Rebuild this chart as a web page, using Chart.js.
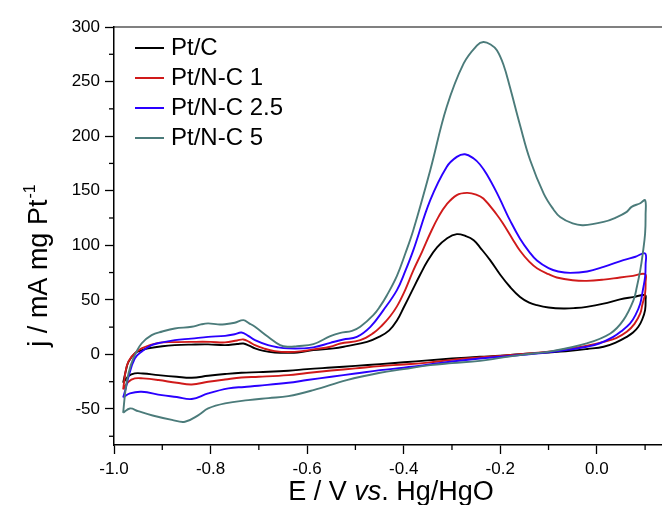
<!DOCTYPE html>
<html><head><meta charset="utf-8">
<script src="https://cdn.jsdelivr.net/npm/chart.js@4.4.1/dist/chart.umd.min.js"></script>
<style>html,body{margin:0;padding:0;background:#fff;}canvas{display:block;}</style>
</head><body>
<canvas id="c" width="662" height="505"></canvas>
<script>
// ---- Data (E in V vs Hg/HgO, j in mA mg Pt^-1) ----
const seriesNames = ['Pt/C', 'Pt/N-C 1', 'Pt/N-C 2.5', 'Pt/N-C 5'];
const seriesColors = ['#000000', '#d01a1a', '#2a00ff', '#4b7b7a'];

const ptC_E = [-0.981,-0.975,-0.970,-0.957,-0.943,-0.929,-0.900,-0.874,-0.840,-0.805,-0.770,-0.745,-0.732,-0.720,-0.708,-0.690,-0.667,-0.639,-0.620,-0.587,-0.545,-0.518,-0.476,-0.449,-0.430,-0.414,-0.400,-0.383,-0.366,-0.350,-0.331,-0.310,-0.290,-0.272,-0.255,-0.240,-0.221,-0.200,-0.180,-0.159,-0.140,-0.124,-0.100,-0.069,-0.045,-0.021,0.014,0.048,0.075,0.100,
  0.101,0.100,0.094,0.086,0.075,0.062,0.040,0.014,-0.020,-0.055,-0.100,-0.159,-0.200,-0.242,-0.300,-0.350,-0.400,-0.449,-0.500,-0.550,-0.600,-0.639,-0.700,-0.736,-0.770,-0.805,-0.839,-0.870,-0.908,-0.940,-0.957,-0.970,-0.981];
const ptC_j = [-26,-14,-6.8,0.9,3.8,5.5,7.5,8.5,9,9.2,8.5,9.5,10,8,5.5,3.2,1.8,1.5,1.8,3.9,5.5,7.6,11.5,16.5,22,31,43,58,73,86,98,106.5,110.2,108.5,104.7,97,86.4,73,62,52.7,47.5,45.1,43,42.1,42.5,43.6,46.5,50.4,52.5,54.3,
  50,40.6,32,25.3,20,16.1,11,7,5,3.3,1.8,0.3,-1.2,-2.2,-3.8,-5.5,-7.2,-8.9,-10.5,-12,-13.5,-15,-16.2,-16.8,-18,-19.6,-21.4,-20.5,-19,-17.5,-17.4,-19.9,-26];

const ptNC1_E = [-0.981,-0.974,-0.964,-0.943,-0.908,-0.870,-0.839,-0.800,-0.770,-0.745,-0.732,-0.720,-0.708,-0.690,-0.667,-0.639,-0.610,-0.587,-0.552,-0.531,-0.490,-0.463,-0.445,-0.428,-0.414,-0.397,-0.380,-0.362,-0.345,-0.328,-0.311,-0.290,-0.269,-0.250,-0.235,-0.207,-0.193,-0.175,-0.159,-0.140,-0.124,-0.100,-0.083,-0.050,-0.021,0.014,0.048,0.075,0.100,
  0.101,0.100,0.094,0.090,0.078,0.062,0.040,0.014,-0.020,-0.055,-0.100,-0.159,-0.200,-0.242,-0.300,-0.350,-0.400,-0.449,-0.500,-0.550,-0.600,-0.639,-0.700,-0.736,-0.770,-0.805,-0.839,-0.870,-0.908,-0.940,-0.957,-0.970,-0.981];
const ptNC1_j = [-32,-11.3,-2.2,5.5,10.6,11.3,11.5,11.5,11,12.8,13.7,11.5,8.5,5.5,3,2.2,3,4.6,7,10,13.1,19.5,26.5,35,44,59,77,94,111,126,137.5,146,148,146.5,142.9,128,119,106,95,85,79,73.5,70.5,68,67.4,68.5,70.5,72,73.5,
  66,55.9,45,37.5,28,20.7,15,11.5,8,5.5,2.5,0.3,-1.5,-2.8,-5,-7.5,-9.2,-10.7,-12.8,-14.8,-17,-19,-20.5,-21.1,-23,-25.1,-27.5,-26,-23.5,-22,-22,-25.1,-32];

const ptNC25_E = [-0.981,-0.975,-0.970,-0.957,-0.943,-0.922,-0.900,-0.874,-0.840,-0.805,-0.770,-0.750,-0.736,-0.722,-0.708,-0.681,-0.660,-0.639,-0.610,-0.587,-0.552,-0.525,-0.497,-0.469,-0.442,-0.414,-0.397,-0.380,-0.345,-0.311,-0.290,-0.273,-0.255,-0.242,-0.228,-0.207,-0.193,-0.180,-0.159,-0.140,-0.124,-0.100,-0.080,-0.055,-0.020,0.014,0.055,0.080,0.100,
  0.101,0.100,0.095,0.090,0.080,0.069,0.050,0.034,0.005,-0.021,-0.055,-0.090,-0.159,-0.200,-0.242,-0.300,-0.350,-0.400,-0.449,-0.500,-0.550,-0.600,-0.639,-0.701,-0.730,-0.763,-0.805,-0.839,-0.870,-0.901,-0.943,-0.967,-0.981];
const ptNC25_j = [-39.4,-30,-20.5,-3.7,2.4,8.5,11,13.1,14.5,16.1,17,18.5,20.1,17,13.1,8.5,6.5,5.5,5.5,6.4,10.6,13.7,16.1,25.3,40.6,58.9,76,95.5,141.3,171.8,181,183.4,179.5,174,165,148,135,123,106,94,86,79,76,74.7,76,80.2,86.4,89.5,92.5,
  82,71,58,46.7,36,28.4,21,16.1,10,7,4.5,2.4,-0.6,-2.2,-3.7,-6.5,-9.5,-12.2,-14.4,-17.5,-20.5,-23.5,-26,-28.7,-29.8,-31.1,-35.7,-40.9,-39,-37.3,-34.2,-35.7,-39.4];

const ptNC5_E = [-0.981,-0.976,-0.970,-0.960,-0.943,-0.922,-0.900,-0.874,-0.839,-0.820,-0.805,-0.785,-0.770,-0.750,-0.732,-0.720,-0.708,-0.681,-0.656,-0.639,-0.621,-0.587,-0.552,-0.531,-0.507,-0.490,-0.463,-0.449,-0.435,-0.414,-0.397,-0.380,-0.345,-0.311,-0.276,-0.248,-0.235,-0.220,-0.207,-0.193,-0.180,-0.159,-0.138,-0.110,-0.090,-0.076,-0.050,-0.028,0.014,0.040,0.062,0.072,0.090,0.100,
  0.101,0.100,0.095,0.090,0.083,0.076,0.055,0.028,-0.021,-0.090,-0.159,-0.200,-0.242,-0.300,-0.345,-0.400,-0.449,-0.518,-0.587,-0.639,-0.680,-0.722,-0.770,-0.805,-0.825,-0.853,-0.880,-0.920,-0.950,-0.967,-0.981];
const ptNC5_j = [-53.5,-32,-17.4,-3.7,10,17.7,21,23.8,25.3,27.5,28.4,27.5,27.7,29,31.4,28.5,25.3,16.1,8.5,7,7.6,9.4,16.8,19.8,21.6,25.3,36,44,54,72,92,114,168.8,226.7,266.5,283.2,286.3,284,278.7,265,245,210,177.9,147.4,133,126,120,118.4,121.4,125.5,130.6,135.2,138.5,141.3,
  128,110.8,92,77.2,62,49.7,31.4,19.2,10.1,3.3,-0.6,-3.2,-5.9,-8,-9.8,-13.5,-16.8,-23.5,-32.7,-38.2,-40,-41.9,-44.9,-49.5,-55.6,-61.7,-60,-56,-52,-49.5,-53.5];

const xMinorTicks = [-0.9, -0.7, -0.5, -0.3, -0.1, 0.1];
const yMinorTicks = [-75, -25, 25, 75, 125, 175, 225, 275];
const xTitleParts = [['E / V ', false], ['vs', true], ['. Hg/HgO', false]];
const yTitleMain = 'j / mA mg Pt';
const yTitleSup = '-1';

const FONT = '"Liberation Sans", Arial, sans-serif';
const seriesE = [ptC_E, ptNC1_E, ptNC25_E, ptNC5_E];
const seriesJ = [ptC_j, ptNC1_j, ptNC25_j, ptNC5_j];

const datasets = seriesNames.map((name, i) => ({
  label: name,
  data: seriesE[i].map((e, k) => ({x: e, y: seriesJ[i][k]})),
  borderColor: seriesColors[i],
  backgroundColor: seriesColors[i],
  borderWidth: 1.9,
  showLine: true,
  pointRadius: 0,
  tension: 0.4,
  fill: false,
  order: 3 - i
}));

const decor = {
  id: 'decor',
  afterDraw(chart) {
    const ctx = chart.ctx, a = chart.chartArea;
    const xs = chart.scales.x, ys = chart.scales.y;
    ctx.save();
    ctx.strokeStyle = '#000';
    ctx.lineWidth = 1.3;
    xMinorTicks.forEach(v => {
      const p = xs.getPixelForValue(v);
      ctx.beginPath(); ctx.moveTo(p, a.bottom); ctx.lineTo(p, a.bottom + 5); ctx.stroke();
    });
    yMinorTicks.forEach(v => {
      const p = ys.getPixelForValue(v);
      ctx.beginPath(); ctx.moveTo(a.left, p); ctx.lineTo(a.left - 5, p); ctx.stroke();
    });
    // legend
    ctx.font = '24px ' + FONT;
    ctx.textBaseline = 'middle';
    ctx.textAlign = 'left';
    seriesNames.forEach((name, i) => {
      const y = a.top + 21 + i * 30;
      ctx.strokeStyle = seriesColors[i];
      ctx.lineWidth = 2;
      ctx.beginPath(); ctx.moveTo(a.left + 21, y); ctx.lineTo(a.left + 50, y); ctx.stroke();
      ctx.fillStyle = '#000';
      ctx.fillText(name, a.left + 57, y);
    });
    // x title
    ctx.textBaseline = 'alphabetic';
    let total = 0;
    const xf = '27px ' + FONT;
    xTitleParts.forEach(([t, it]) => { ctx.font = (it ? 'italic ' : '') + xf; total += ctx.measureText(t).width; });
    let x = 391 - total / 2;
    xTitleParts.forEach(([t, it]) => {
      ctx.font = (it ? 'italic ' : '') + xf;
      ctx.fillText(t, x, 500);
      x += ctx.measureText(t).width;
    });
    // y title
    ctx.save();
    ctx.translate(47, 266);
    ctx.rotate(-Math.PI / 2);
    ctx.font = '27px ' + FONT;
    const w1 = ctx.measureText(yTitleMain).width;
    ctx.font = '16px ' + FONT;
    const w2 = ctx.measureText(yTitleSup).width;
    const start = -(w1 + w2) / 2;
    ctx.font = '27px ' + FONT;
    ctx.fillText(yTitleMain, start, 0);
    ctx.font = '16px ' + FONT;
    ctx.fillText(yTitleSup, start + w1 + 1, -12);
    ctx.restore();
    ctx.restore();
  }
};

new Chart(document.getElementById('c'), {
  type: 'scatter',
  data: {datasets},
  options: {
    responsive: false,
    animation: false,
    devicePixelRatio: 1,
    events: [],
    layout: {padding: 0},
    plugins: {legend: {display: false}, tooltip: {enabled: false}, title: {display: false}},
    scales: {
      x: {
        type: 'linear', position: 'bottom', min: -1.0, max: 0.135,
        afterFit: s => { s.height = 60; },
        ticks: {stepSize: 0.2, includeBounds: false, color: '#000', font: {family: FONT, size: 17}, padding: 5, maxRotation: 0,
          callback: v => Number(v).toFixed(1)},
        grid: {drawOnChartArea: false, tickLength: 9, tickColor: '#000', tickWidth: 1.3},
        border: {color: '#000', width: 1.5}
      },
      x2: {
        type: 'linear', position: 'top', min: -1.0, max: 0.135,
        afterFit: s => { s.height = 27; },
        ticks: {display: false},
        grid: {drawOnChartArea: false, drawTicks: false},
        border: {color: '#808080', width: 2}
      },
      y: {
        type: 'linear', position: 'left', min: -83, max: 300,
        afterFit: s => { s.width = 114; },
        ticks: {stepSize: 50, includeBounds: false, color: '#000', font: {family: FONT, size: 17}, padding: 5},
        grid: {drawOnChartArea: false, tickLength: 9, tickColor: '#000', tickWidth: 1.3},
        border: {color: '#000', width: 1.5}
      }
    }
  },
  plugins: [decor]
});
</script>
</body></html>
